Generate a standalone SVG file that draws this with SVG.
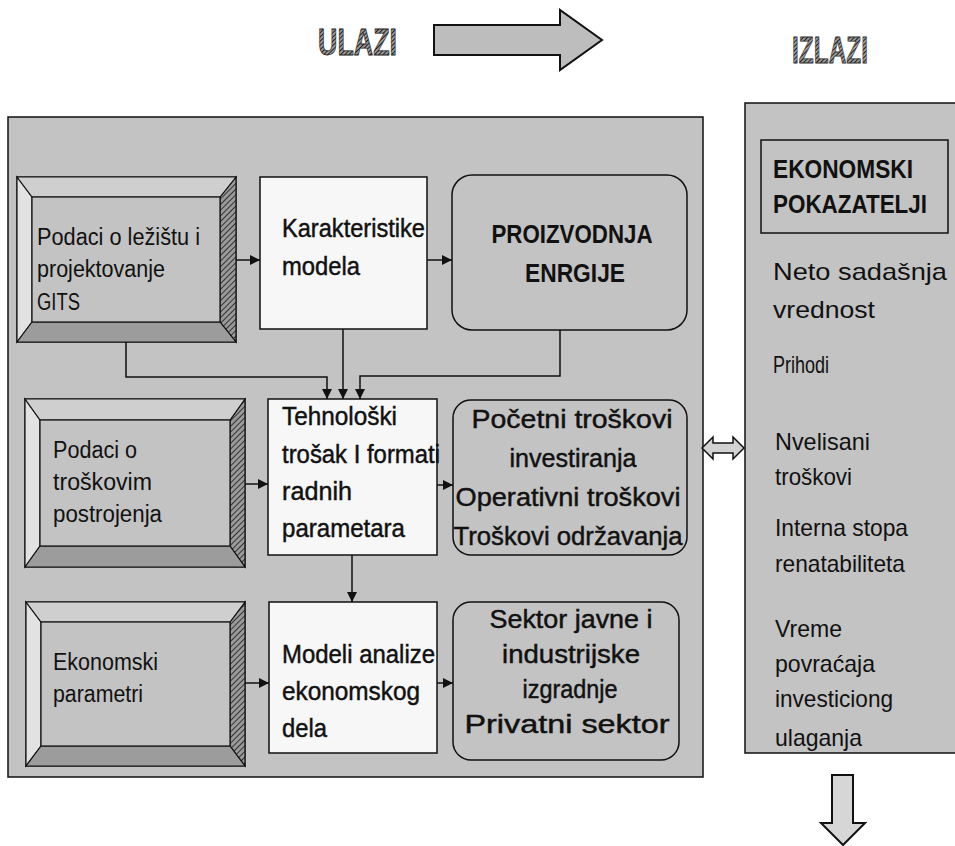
<svg xmlns="http://www.w3.org/2000/svg" width="955" height="846" viewBox="0 0 955 846">
<defs>
<style>
text{font-family:"Liberation Sans",Arial,sans-serif;fill:#111;}
.t23{font-size:23px;}
.t24{font-size:24px;}
.t26{font-size:26px;stroke:#111;stroke-width:0.45;}
.cap{font-size:26px;font-weight:bold;}
.panel{fill:#c3c3c3;stroke:#111;stroke-width:1.5;}
.white{fill:#f7f7f7;stroke:#111;stroke-width:1.5;}
.round{fill:#c3c3c3;stroke:#111;stroke-width:1.5;}
.bev{stroke:#111;stroke-width:1.2;}
.conn{fill:none;stroke:#111;stroke-width:1.5;}
.fat{stroke:#111;stroke-width:2;stroke-linejoin:miter;}
</style>
<marker id="ah" viewBox="0 0 10 10" refX="10" refY="5" markerWidth="10" markerHeight="10" markerUnits="userSpaceOnUse" orient="auto">
<path d="M0,0 L10,5 L0,10 Z" fill="#111"/>
</marker>
<pattern id="hatch" width="4" height="4" patternUnits="userSpaceOnUse" patternTransform="rotate(45)">
<rect width="4" height="4" fill="#9a9a9a"/>
<line x1="0" y1="0" x2="0" y2="4" stroke="#333" stroke-width="2"/>
</pattern>
<pattern id="hatchD" width="3" height="3" patternUnits="userSpaceOnUse" patternTransform="rotate(45)">
<rect width="3" height="3" fill="#9a9a9a"/>
<line x1="0" y1="0" x2="0" y2="3" stroke="#111" stroke-width="1.8"/>
</pattern>
</defs>

<rect width="955" height="846" fill="#ffffff"/>

<!-- header -->
<g id="ulazi">
<text x="318" y="55" font-size="36" font-weight="bold" textLength="79" lengthAdjust="spacingAndGlyphs" style="fill:url(#hatchD);stroke:#222;stroke-width:0.8">ULAZI</text>
<path class="fat" d="M434,25 H560 V10 L602,40 L560,70 V55 H434 Z" fill="#bdbdbd"/>
</g>
<g id="izlazi">
<text x="792" y="63" font-size="36" font-weight="bold" textLength="76" lengthAdjust="spacingAndGlyphs" style="fill:url(#hatchD);stroke:#333;stroke-width:0.8">IZLAZI</text>
</g>

<!-- panels -->
<g id="main-panel"><rect class="panel" x="8" y="117" width="695" height="660"/></g>
<g id="right-panel"><rect class="panel" x="745" y="103" width="215" height="650"/></g>

<!-- node 1 -->
<g id="n1">
<rect class="bev" x="17" y="177" width="219" height="165" fill="#c3c3c3"/>
<polygon class="bev" points="17,177 32,197 32,322 17,342" fill="#e2e2e2"/>
<polygon class="bev" points="236,177 220,197 220,322 236,342" fill="url(#hatch)"/>
<polygon class="bev" points="17,342 32,322 220,322 236,342" fill="#9c9c9c"/>
<polygon class="bev" points="17,177 32,197 220,197 236,177" fill="#cfcfcf"/>
<rect class="bev" x="32" y="197" width="188" height="125" fill="#c3c3c3"/>
<text class="t23" x="37" y="245" textLength="163" lengthAdjust="spacingAndGlyphs">Podaci o ležištu i</text>
<text class="t23" x="37" y="277" textLength="128" lengthAdjust="spacingAndGlyphs">projektovanje</text>
<text class="t23" x="37" y="310" textLength="43" lengthAdjust="spacingAndGlyphs">GITS</text>
</g>

<!-- node 2 -->
<g id="n2">
<rect class="white" x="260" y="177" width="167" height="152"/>
<text class="t26" x="282" y="237" textLength="143" lengthAdjust="spacingAndGlyphs">Karakteristike</text>
<text class="t26" x="282" y="275" textLength="78" lengthAdjust="spacingAndGlyphs">modela</text>
</g>

<!-- node 3 -->
<g id="n3">
<rect class="round" x="452" y="175" width="235" height="155" rx="20" ry="20"/>
<text class="cap" x="572" y="243" text-anchor="middle" textLength="161" lengthAdjust="spacingAndGlyphs">PROIZVODNJA</text>
<text class="cap" x="575" y="282" text-anchor="middle" textLength="100" lengthAdjust="spacingAndGlyphs">ENRGIJE</text>
</g>

<!-- node 4 -->
<g id="n4">
<rect class="bev" x="25" y="399" width="220" height="168" fill="#c3c3c3"/>
<polygon class="bev" points="25,399 40,420 40,546 25,567" fill="#e2e2e2"/>
<polygon class="bev" points="245,399 230,420 230,546 245,567" fill="url(#hatch)"/>
<polygon class="bev" points="25,567 40,546 230,546 245,567" fill="#9c9c9c"/>
<polygon class="bev" points="25,399 40,420 230,420 245,399" fill="#cfcfcf"/>
<rect class="bev" x="40" y="420" width="190" height="126" fill="#c3c3c3"/>
<text class="t23" x="53" y="458" textLength="84" lengthAdjust="spacingAndGlyphs">Podaci o</text>
<text class="t23" x="53" y="490" textLength="99" lengthAdjust="spacingAndGlyphs">troškovim</text>
<text class="t23" x="53" y="522" textLength="109" lengthAdjust="spacingAndGlyphs">postrojenja</text>
</g>

<!-- node 5 -->
<g id="n5">
<rect class="white" x="268" y="399" width="169" height="156"/>
<text class="t26" x="282" y="425" textLength="115" lengthAdjust="spacingAndGlyphs">Tehnološki</text>
<text class="t26" x="282" y="463" textLength="158" lengthAdjust="spacingAndGlyphs">trošak I formati</text>
<text class="t26" x="282" y="500" textLength="70" lengthAdjust="spacingAndGlyphs">radnih</text>
<text class="t26" x="282" y="537" textLength="123" lengthAdjust="spacingAndGlyphs">parametara</text>
</g>

<!-- node 6 -->
<g id="n6">
<rect class="round" x="453" y="400" width="234" height="155" rx="18" ry="18"/>
<text class="t26" x="572" y="428" text-anchor="middle" textLength="201" lengthAdjust="spacingAndGlyphs">Početni troškovi</text>
<text class="t26" x="573" y="467" text-anchor="middle" textLength="127" lengthAdjust="spacingAndGlyphs">investiranja</text>
<text class="t26" x="568" y="506" text-anchor="middle" textLength="225" lengthAdjust="spacingAndGlyphs">Operativni troškovi</text>
<text class="t26" x="568" y="545" text-anchor="middle" textLength="229" lengthAdjust="spacingAndGlyphs">Troškovi održavanja</text>
</g>

<!-- node 7 -->
<g id="n7">
<rect class="bev" x="26" y="602" width="219" height="164" fill="#c3c3c3"/>
<polygon class="bev" points="26,602 41,622 41,746 26,766" fill="#e2e2e2"/>
<polygon class="bev" points="245,602 230,622 230,746 245,766" fill="url(#hatch)"/>
<polygon class="bev" points="26,766 41,746 230,746 245,766" fill="#9c9c9c"/>
<polygon class="bev" points="26,602 41,622 230,622 245,602" fill="#cfcfcf"/>
<rect class="bev" x="41" y="622" width="189" height="124" fill="#c3c3c3"/>
<text class="t23" x="53" y="670" textLength="105" lengthAdjust="spacingAndGlyphs">Ekonomski</text>
<text class="t23" x="53" y="702" textLength="90" lengthAdjust="spacingAndGlyphs">parametri</text>
</g>

<!-- node 8 -->
<g id="n8">
<rect class="white" x="269" y="602" width="168" height="151"/>
<text class="t26" x="282" y="663" textLength="153" lengthAdjust="spacingAndGlyphs">Modeli analize</text>
<text class="t26" x="282" y="700" textLength="138" lengthAdjust="spacingAndGlyphs">ekonomskog</text>
<text class="t26" x="282" y="737" textLength="45" lengthAdjust="spacingAndGlyphs">dela</text>
</g>

<!-- node 9 -->
<g id="n9">
<rect class="round" x="453" y="602" width="226" height="158" rx="18" ry="18"/>
<text class="t26" x="571" y="628" text-anchor="middle" textLength="163" lengthAdjust="spacingAndGlyphs">Sektor javne i</text>
<text class="t26" x="571" y="663" text-anchor="middle" textLength="138" lengthAdjust="spacingAndGlyphs">industrijske</text>
<text class="t26" x="570" y="698" text-anchor="middle" textLength="95" lengthAdjust="spacingAndGlyphs">izgradnje</text>
<text class="t26" x="567" y="733" text-anchor="middle" textLength="205" lengthAdjust="spacingAndGlyphs">Privatni sektor</text>
</g>

<!-- right panel content -->
<g id="ekonomski-pokazatelji">
<rect x="761" y="140" width="187" height="93" fill="none" stroke="#111" stroke-width="1.5"/>
<text class="cap" x="773" y="178" textLength="140" lengthAdjust="spacingAndGlyphs">EKONOMSKI</text>
<text class="cap" x="773" y="213" textLength="154" lengthAdjust="spacingAndGlyphs">POKAZATELJI</text>
</g>
<g id="indicators">
<text class="t24" x="773" y="280" textLength="174" lengthAdjust="spacingAndGlyphs">Neto sadašnja</text>
<text class="t24" x="773" y="318" textLength="102" lengthAdjust="spacingAndGlyphs">vrednost</text>
<text class="t24" x="773" y="373" textLength="56" lengthAdjust="spacingAndGlyphs">Prihodi</text>
<text class="t24" x="775" y="450" textLength="95" lengthAdjust="spacingAndGlyphs">Nvelisani</text>
<text class="t24" x="775" y="485" textLength="77" lengthAdjust="spacingAndGlyphs">troškovi</text>
<text class="t24" x="775" y="536" textLength="133" lengthAdjust="spacingAndGlyphs">Interna stopa</text>
<text class="t24" x="775" y="572" textLength="130" lengthAdjust="spacingAndGlyphs">renatabiliteta</text>
<text class="t24" x="775" y="637" textLength="67" lengthAdjust="spacingAndGlyphs">Vreme</text>
<text class="t24" x="775" y="672" textLength="100" lengthAdjust="spacingAndGlyphs">povraćaja</text>
<text class="t24" x="775" y="707" textLength="118" lengthAdjust="spacingAndGlyphs">investiciong</text>
<text class="t24" x="775" y="746" textLength="87" lengthAdjust="spacingAndGlyphs">ulaganja</text>
</g>

<!-- connectors -->
<g id="connectors">
<line class="conn" x1="236" y1="260" x2="260" y2="260" marker-end="url(#ah)"/>
<line class="conn" x1="427" y1="260" x2="452" y2="260" marker-end="url(#ah)"/>
<line class="conn" x1="245" y1="484" x2="268" y2="484" marker-end="url(#ah)"/>
<line class="conn" x1="437" y1="485" x2="453" y2="485" marker-end="url(#ah)"/>
<line class="conn" x1="245" y1="683" x2="269" y2="683" marker-end="url(#ah)"/>
<line class="conn" x1="437" y1="683" x2="453" y2="683" marker-end="url(#ah)"/>
<path class="conn" d="M126,342 V377 H327 V399" marker-end="url(#ah)"/>
<path class="conn" d="M343,329 V399" marker-end="url(#ah)"/>
<path class="conn" d="M560,330 V376 H360 V399" marker-end="url(#ah)"/>
<path class="conn" d="M352,555 V602" marker-end="url(#ah)"/>
<path class="fat" d="M702,448 L713,437 L713,443 L733,443 L733,437 L744,448 L733,459 L733,453 L713,453 L713,459 Z" fill="#d2d2d2" style="stroke-width:1.5"/>
<path class="fat" d="M832,775 H853 V823 H865 L843,845 L821,823 H832 Z" fill="#d6d6d6"/>
</g>
</svg>
